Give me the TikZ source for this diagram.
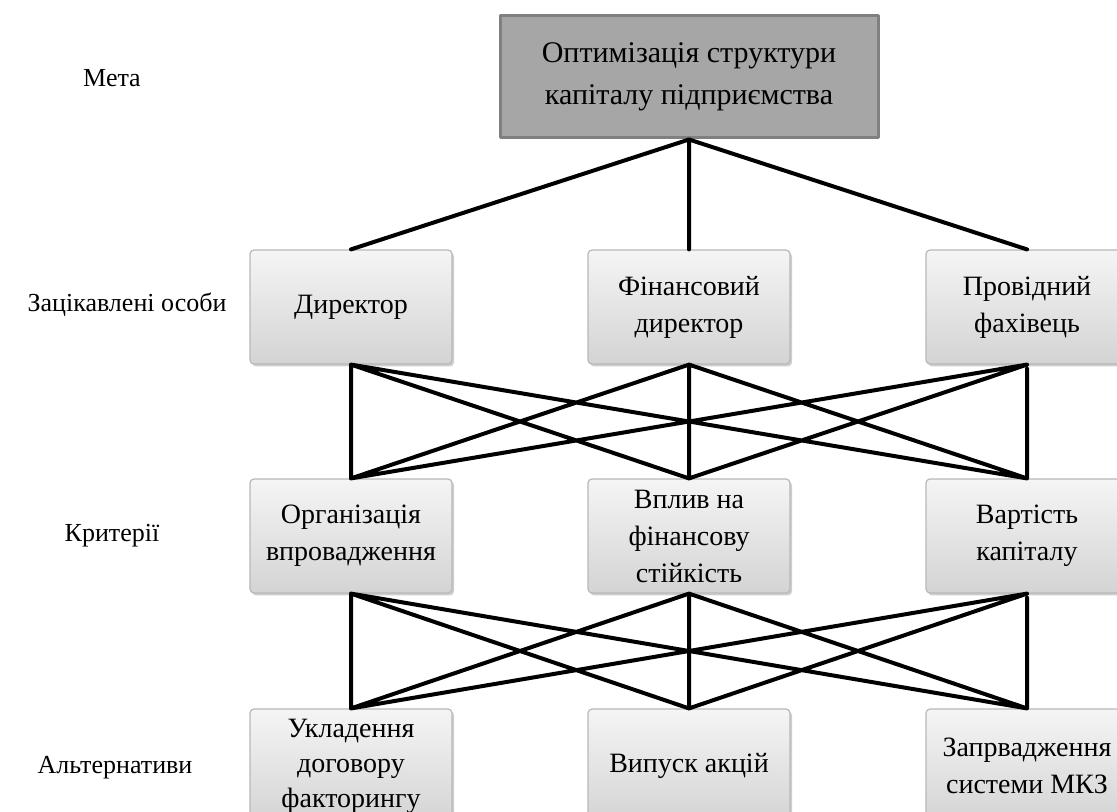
\documentclass[tikz,border=0pt]{standalone}
\usepackage{fontspec}
\setmainfont{Liberation Serif}
\usetikzlibrary{shadows}
\tikzset{
  goalbox/.style={draw=black!50, line width=1.5pt, fill=black!35, minimum width=189pt, minimum height=61pt, align=center, font=\fontsize{15}{21}\selectfont},
  levelbox/.style={draw=black!28, line width=0.6pt, rounded corners=2pt, top color=black!4, bottom color=black!17, minimum width=101pt, minimum height=57pt, align=center, font=\fontsize{14}{18.5}\selectfont, drop shadow={shadow xshift=1pt, shadow yshift=-1.2pt, opacity=0.35, fill=black!55}},
  levelname/.style={font=\fontsize{13}{16}\selectfont},
  link/.style={line width=2pt}
}
\begin{document}
\begin{tikzpicture}[x=0.5pt, y=-0.5pt, line join=round, line cap=round]
	\useasboundingbox (0,0) rectangle (1117,812);
	\clip (0,0) rectangle (1117,812);
	% рівні ієрархії
	\path
	(112,78) node[levelname] (meta) {Мета}
	(127,305) node[levelname] (osoby) {Зацікавлені особи}
	(112,536) node[levelname] (kryt) {Критерії}
	(115,768) node[levelname] (alt) {Альтернативи}
	;
	% мета
	\node[goalbox] (goal) at (689,77) {Оптимізація структури\\капіталу підприємства};
	% зацікавлені особи
	\node[levelbox] (d1) at (351,307) {Директор};
	\node[levelbox] (d2) at (689,307) {Фінансовий\\директор};
	\node[levelbox] (d3) at (1027,307) {Провідний\\фахівець};
	% критерії
	\node[levelbox] (k1) at (351,536) {Організація\\впровадження};
	\node[levelbox] (k2) at (689,536) {Вплив на\\фінансову\\стійкість};
	\node[levelbox] (k3) at (1027,536) {Вартість\\капіталу};
	% альтернативи
	\node[levelbox, font=\fontsize{14}{17.5}\selectfont] (a1) at (351,766) {Укладення\\договору\\факторингу};
	\node[levelbox] (a2) at (689,766) {Випуск акцій};
	\node[levelbox] (a3) at (1027,766) {Запрвадження\\системи МКЗ};
	
	\draw[link] (goal.south)--(d1.north) (goal.south)--(d2.north) (goal.south)--(d3.north);
	\draw[link, shorten <=2pt] (d1.south)--(k1.north) (d1.south)--(k2.north) (d1.south)--(k3.north)
	(d2.south)--(k1.north) (d2.south)--(k2.north) (d2.south)--(k3.north)
	(d3.south)--(k1.north) (d3.south)--(k2.north) (d3.south)--(k3.north);
	\draw[link, shorten <=2pt] (k1.south)--(a1.north) (k1.south)--(a2.north) (k1.south)--(a3.north)
	(k2.south)--(a1.north) (k2.south)--(a2.north) (k2.south)--(a3.north)
	(k3.south)--(a1.north) (k3.south)--(a2.north) (k3.south)--(a3.north);
	
\end{tikzpicture}
\end{document}
